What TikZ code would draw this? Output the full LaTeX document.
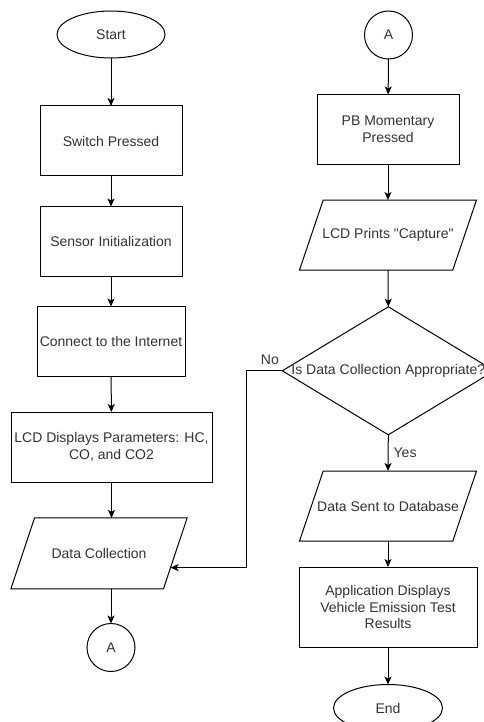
\documentclass[tikz,border=0pt]{standalone}
\usepackage{fontspec}
\setmainfont{Liberation Sans}[Ligatures=TeXOff]
\usepackage{tikz}
\usetikzlibrary{shapes.geometric,arrows.meta,calc}

\begin{document}
\begin{tikzpicture}[x=1pt,y=-1pt,>={Stealth[length=8pt,width=7pt,inset=2pt]},
  every node/.style={font=\fontsize{14}{16.8}\selectfont,text=txtColor},
  procBox/.style={draw,line width=1pt,rectangle,inner sep=0pt,outer sep=0pt,align=center,minimum width=142pt,minimum height=70pt},
  ioBox/.style={rectangle,inner sep=0pt,outer sep=0pt,align=center,minimum width=153.3pt,minimum height=70pt},
  termBox/.style={draw,line width=1pt,ellipse,inner sep=0pt,outer sep=0pt,minimum width=108pt,minimum height=47pt},
  connBox/.style={draw,line width=1pt,circle,inner sep=0pt,outer sep=0pt,minimum size=48pt},
  decBox/.style={draw,line width=1pt,diamond,inner sep=0pt,outer sep=0pt,minimum width=212pt,minimum height=128pt},
  flowLine/.style={->,line width=1pt}]
\definecolor{txtColor}{RGB}{51,51,51}
\useasboundingbox[fill=white] (0,0) rectangle (483,722);
\node[termBox] (start) at (111,34.5) {Start};
\node[procBox] (sw) at (111,141) {Switch Pressed};
\node[procBox] (sens) at (111,241.5) {Sensor Initialization};
\node[procBox,minimum width=148pt] (net) at (111,341.5) {Connect to the Internet};
\node[procBox,minimum width=201pt] (lcd) at (111.5,447) {LCD Displays Parameters: HC,\\CO, and CO2};
\node[ioBox,minimum width=152.6pt,minimum height=71pt] (dc) at (99,553.4) {Data Collection};
\node[connBox] (conA) at (111,647.5) {A};
\node[connBox] (conB) at (388.5,35) {A};
\node[procBox] (pb) at (388,129.5) {PB Momentary\\Pressed};
\node[ioBox] (prt) at (388,235) {LCD Prints "Capture"};
\node[decBox] (dec) at (388.3,370.8) {};
\node (decText) at (dec.center) {Is Data Collection Appropriate?};
\node[ioBox] (ds) at (388,506) {Data Sent to Database};
\node[procBox,minimum width=178pt,minimum height=80pt] (app) at (388,607) {Application Displays\\Vehicle Emission Test\\Results};
\node[termBox,minimum width=109pt] (fin) at (388,708) {End};
\foreach \n in {dc,prt,ds}
  \draw[line width=1pt] ([xshift=11.85pt]\n.north west) -- ([xshift=11.85pt]\n.north east) -- ([xshift=-11.85pt]\n.south east) -- ([xshift=-11.85pt]\n.south west) -- cycle;
\coordinate (dcIn) at ($([xshift=11.85pt]dc.north east)!0.7!([xshift=-11.85pt]dc.south east)$);
\draw[flowLine] (start) -- (sw);
\draw[flowLine] (sw) -- (sens);
\draw[flowLine] (sens) -- (net);
\draw[flowLine] (net) -- (lcd);
\draw[flowLine] (lcd.south) -- (lcd.south |- dc.north);
\draw[flowLine] (conA.north |- dc.south) -- (conA.north);
\draw[flowLine] (conB) -- (pb);
\draw[flowLine] (pb) -- (prt);
\draw[flowLine] (prt.south) -- (dec.north);
\draw[flowLine] (dec.south) -- node[anchor=west,xshift=5pt,inner sep=0pt] {Yes} (ds.north);
\draw[flowLine] (dec.west) node[anchor=south east,xshift=-3pt,yshift=6pt,inner sep=0pt] {No} -- ++(-35.6,0) |- (dcIn);
\draw[flowLine] (ds.south) -- (app.north);
\draw[flowLine] (app) -- (fin);
\end{tikzpicture}
\end{document}
